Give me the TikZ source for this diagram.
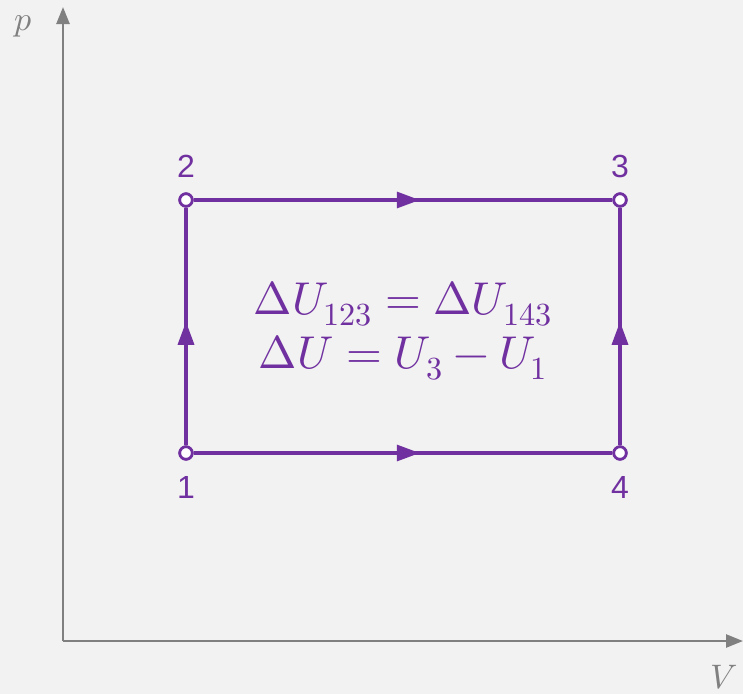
\documentclass[tikz,border=0pt]{standalone}
\usepackage{fontspec}
\usepackage{unicode-math}
\newfontfamily\labfont{Liberation Sans}
\usetikzlibrary{arrows.meta,decorations.markings}
\definecolor{pur}{HTML}{7030A0}
\definecolor{axgray}{HTML}{808080}
\definecolor{bgc}{HTML}{F2F2F2}
\begin{document}
\begin{tikzpicture}[x=1pt,y=-1pt,
  axis/.style={draw=axgray,line width=2.5pt,-{Triangle[length=17pt,width=13pt]}},
  edge/.style={draw=pur,line width=3.2pt},
  midarrow/.style={postaction={decorate},decoration={markings,mark=at position #1 with {\arrow[pur]{Triangle[length=23pt,width=16pt]}}}},
  dot/.style={circle,draw=pur,fill=white,line width=2.7pt,minimum size=12.5pt,inner sep=0pt},
  num/.style={text=pur,font=\labfont\fontsize{32}{36}\selectfont,inner sep=0pt},
  axlab/.style={text=axgray,font=\fontsize{34}{38}\selectfont,inner sep=0pt}]
\fill[bgc] (0,0) rectangle (743,694);
\useasboundingbox (0,0) rectangle (743,694);
% axes
\coordinate (O) at (63,641);
\coordinate (ytip) at (63,7);
\coordinate (xtip) at (743,641);
\draw[axis] (O) -- (ytip);
\draw[axis] (O) -- (xtip);
\node[axlab] (pl) at (23,26) {$p$};
\node[axlab] (vl) at (724,677) {$V$};
% state points
\node[dot] (n1) at (186,453) {};
\node[dot] (n2) at (186,200) {};
\node[dot] (n3) at (620,200) {};
\node[dot] (n4) at (620,453) {};
% process lines
\draw[edge,midarrow=0.52] (n1) -- (n2);
\draw[edge,midarrow=0.54] (n2) -- (n3);
\draw[edge,midarrow=0.54] (n1) -- (n4);
\draw[edge,midarrow=0.52] (n4) -- (n3);
% re-draw dots on top
\node[dot] at (n1) {};
\node[dot] at (n2) {};
\node[dot] at (n3) {};
\node[dot] at (n4) {};
% labels
\node[num] (l1) at (186,487) {1};
\node[num] (l2) at (186,166) {2};
\node[num] (l3) at (620,166) {3};
\node[num] (l4) at (620,487) {4};
\node[text=pur,align=center,font=\fontsize{46}{54}\selectfont,inner sep=0pt] (eq) at (403,331)
  {$\Delta U_{123} = \Delta U_{143}$\\$\Delta U = U_3 - U_1$};
\end{tikzpicture}
\end{document}
